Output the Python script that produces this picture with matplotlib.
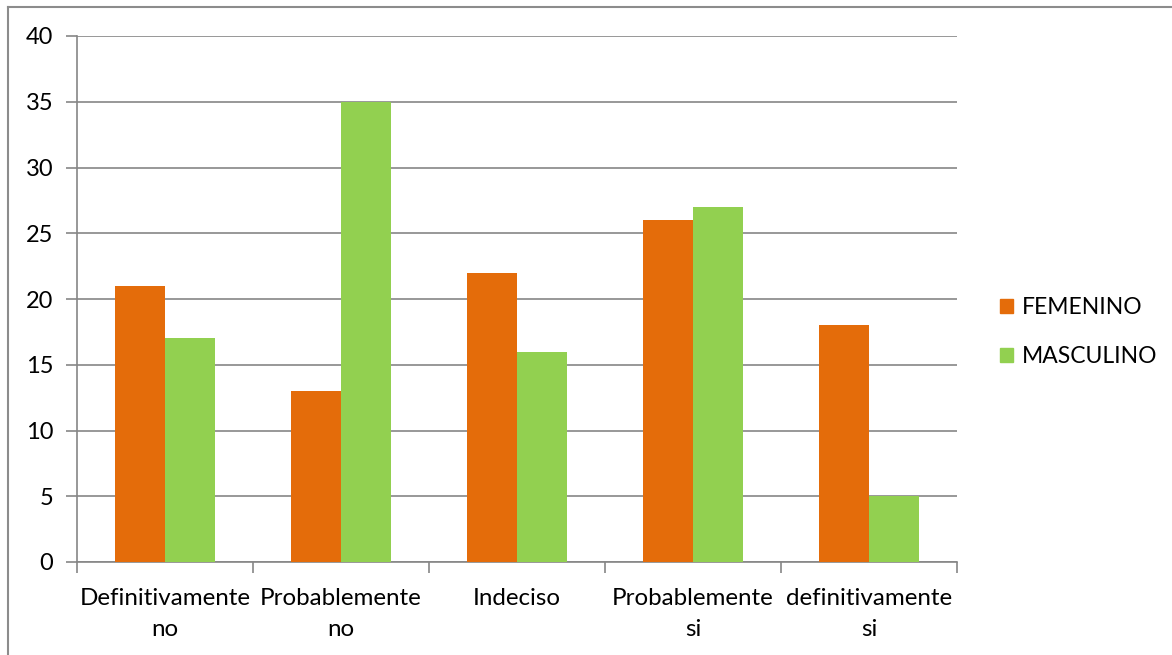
import matplotlib
matplotlib.use("Agg")
import matplotlib.pyplot as plt
import numpy as np
from matplotlib.lines import Line2D
from matplotlib.patches import Rectangle

categories = ["Definitivamente\nno", "Probablemente\nno", "Indeciso",
              "Probablemente\nsi", "definitivamente\nsi"]
femenino = [21, 13, 22, 26, 18]
masculino = [17, 35, 16, 27, 5]
series_names = ["FEMENINO", "MASCULINO"]
y_ticks = [0, 5, 10, 15, 20, 25, 30, 35, 40]

ORANGE = "#E46C0A"
GREEN = "#92D050"
GRID = "#868686"
FONT = "Lato"

fig = plt.figure(figsize=(11.72, 6.55), dpi=100)
fig.patch.set_facecolor("white")

# outer chart frame (left and top edges visible)
fig.add_artist(Line2D([8 / 1172, 8 / 1172], [0, 1 - 7 / 655], color="#8c8c8c", lw=1.5,
                      transform=fig.transFigure))
fig.add_artist(Line2D([8 / 1172, 1], [1 - 7 / 655, 1 - 7 / 655], color="#8c8c8c", lw=1.5,
                      transform=fig.transFigure))

ax = fig.add_axes([77 / 1172, 1 - 562 / 655, (957 - 77) / 1172, (562 - 36) / 655])

x = np.arange(len(categories))
w = 0.285
ax.bar(x - w / 2, femenino, width=w, color=ORANGE, label=series_names[0], zorder=3)
ax.bar(x + w / 2, masculino, width=w, color=GREEN, label=series_names[1], zorder=3)

ax.set_xlim(-0.5, len(categories) - 0.5)
ax.set_ylim(0, 40)
ax.set_yticks(y_ticks)
ax.set_yticklabels([str(v) for v in y_ticks], fontsize=17, family=FONT)
ax.yaxis.grid(True, color=GRID, lw=1.2, zorder=0)
ax.set_axisbelow(True)

# category boundaries carry the x ticks
ax.set_xticks(np.arange(len(categories) + 1) - 0.5)
ax.set_xticklabels([])
ax.tick_params(axis="x", length=8, width=1.2, color=GRID, direction="out")
ax.tick_params(axis="y", length=8, width=1.2, color=GRID, direction="out", pad=9)
for i, lab in enumerate(categories):
    ax.text(i, -2.0, lab, ha="center", va="top", fontsize=17.4, family=FONT,
            linespacing=1.58, transform=ax.transData)

for s in ["top", "right"]:
    ax.spines[s].set_visible(False)
for s in ["left", "bottom"]:
    ax.spines[s].set_color(GRID)
    ax.spines[s].set_linewidth(1.2)

# legend
handles = [Rectangle((0, 0), 1, 1, color=ORANGE), Rectangle((0, 0), 1, 1, color=GREEN)]
leg = fig.legend(handles, series_names, loc="center left",
                 bbox_to_anchor=(984 / 1172, 1 - 332 / 655), frameon=False,
                 prop={"family": FONT, "size": 16.5}, handlelength=0.57, handleheight=0.57,
                 handletextpad=0.4, labelspacing=1.22, borderpad=0.2)

fig.savefig("out.png", dpi=100, facecolor="white")
